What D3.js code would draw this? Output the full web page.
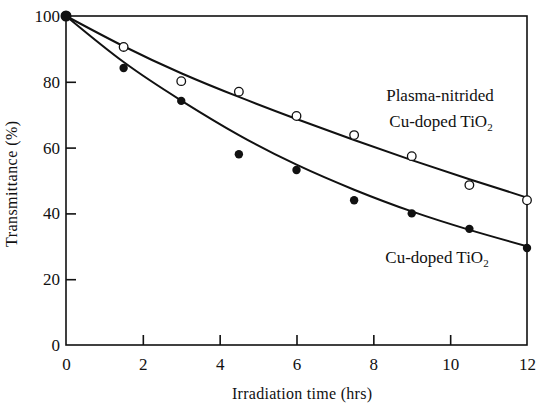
<!DOCTYPE html>
<html>
<head>
<meta charset="utf-8">
<script src="https://cdn.jsdelivr.net/npm/d3@7"></script>
<style>
  body { margin: 0; background: #fff; }
  svg text { font-family: "Liberation Serif", serif; }
</style>
</head>
<body>
<div id="chart"></div>
<script>
(() => {
"use strict";

const WIDTH = 537, HEIGHT = 404;
const FONT = "Liberation Serif";

// measured points
let hours = [0, 1.5, 3, 4.5, 6, 7.5, 9, 10.5, 12];
let nitrided = [100, 90.6, 80.2, 77, 69.6, 63.8, 57.4, 48.6, 44];
let doped = [100, 84.2, 74.2, 58, 53.2, 44, 40, 35.3, 29.5];

// fitted curves at the same hours
let nitridedFit = [100, 90.8, 82.6, 75.4, 68.7, 62.3, 56.2, 50.4, 44.8];
let dopedFit = [100, 86, 74.3, 63.8, 54.8, 47.2, 40.6, 35, 30];

let xTicks = [0, 2, 4, 6, 8, 10, 12];
let yTicks = [0, 20, 40, 60, 80, 100];

const left = 66, right = 527, top = 16, bottom = 345;

let svg = d3.select("#chart").append("svg")
  .attr("width", WIDTH)
  .attr("height", HEIGHT)
  .attr("font-family", FONT);

let xScale = d3.scaleLinear().domain([0, 12]).range([left, right]);
let yScale = d3.scaleLinear().domain([0, 100]).range([bottom, top]);

// frame
svg.append("rect")
  .attr("x", left).attr("y", top)
  .attr("width", right - left).attr("height", bottom - top)
  .attr("fill", "none").attr("stroke", "#111").attr("stroke-width", 1.6);

// axes, ticks pointing inward
let xAxis = svg.append("g")
  .attr("transform", `translate(0,${bottom})`)
  .call(d3.axisBottom(xScale).tickValues(xTicks).tickSize(-10).tickPadding(13).tickFormat(d3.format("d")));
let yAxis = svg.append("g")
  .attr("transform", `translate(${left},0)`)
  .call(d3.axisLeft(yScale).tickValues(yTicks).tickSize(-10).tickPadding(6).tickFormat(d3.format("d")));

[xAxis, yAxis].forEach(a => {
  a.attr("font-family", FONT).attr("font-size", 17);
  a.select(".domain").remove();
  a.selectAll(".tick line").attr("stroke", "#111").attr("stroke-width", 1.6);
  a.selectAll(".tick text").attr("fill", "#111");
});
xAxis.selectAll(".tick line").filter(d => d === 0 || d === 12).remove();
yAxis.selectAll(".tick line").filter(d => d === 0 || d === 100).remove();

// fitted curves
let line = d3.line()
  .x((d, i) => xScale(hours[i]))
  .y(d => yScale(d))
  .curve(d3.curveNatural);

[nitridedFit, dopedFit].forEach(fit => {
  svg.append("path")
    .datum(fit)
    .attr("d", line)
    .attr("fill", "none")
    .attr("stroke", "#111")
    .attr("stroke-width", 2);
});

// markers
svg.append("g").selectAll("circle")
  .data(nitrided)
  .join("circle")
  .attr("cx", (d, i) => xScale(hours[i]))
  .attr("cy", d => yScale(d))
  .attr("r", 4.3)
  .attr("fill", "#fff")
  .attr("stroke", "#111")
  .attr("stroke-width", 1.3);

svg.append("g").selectAll("circle")
  .data(doped)
  .join("circle")
  .attr("cx", (d, i) => xScale(hours[i]))
  .attr("cy", d => yScale(d))
  .attr("r", (d, i) => i === 0 ? 5.5 : 4.2)
  .attr("fill", "#111");

// labels
let label = (x, y, parts) => {
  let t = svg.append("text")
    .attr("x", x).attr("y", y)
    .attr("text-anchor", "middle")
    .attr("fill", "#111")
    .attr("font-family", FONT)
    .attr("font-size", 17);
  parts.forEach(p => {
    let s = t.append("tspan").text(p[0]);
    if (p[1]) s.attr("font-size", 11).attr("dy", 4);
  });
  return t;
};
label(440, 101, [["Plasma-nitrided"]]);
label(441, 127, [["Cu-doped TiO"], ["2", true]]);
label(437, 263, [["Cu-doped TiO"], ["2", true]]);

svg.append("text")
  .attr("x", 302)
  .attr("y", 399)
  .attr("text-anchor", "middle")
  .attr("fill", "#111")
  .attr("font-family", FONT)
  .attr("font-size", 16)
  .attr("textLength", 140)
  .text("Irradiation time (hrs)");

svg.append("text")
  .attr("transform", "translate(17,184) rotate(-90)")
  .attr("text-anchor", "middle")
  .attr("fill", "#111")
  .attr("font-family", FONT)
  .attr("font-size", 16)
  .attr("textLength", 126)
  .text("Transmittance (%)");
})();
</script>
</body>
</html>
